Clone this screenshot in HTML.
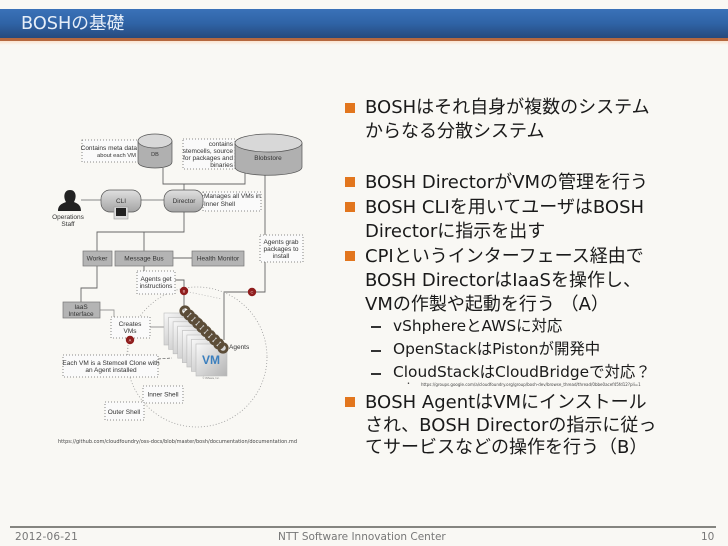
<!DOCTYPE html>
<html><head><meta charset="utf-8">
<style>
html,body{margin:0;padding:0;width:728px;height:546px;overflow:hidden;background:#f9f8f4}
body{position:relative;font-family:"DejaVu Sans","Noto Sans CJK JP",sans-serif}
.a{position:absolute;white-space:nowrap}
.l{position:absolute;left:365px;font-size:18px;line-height:24px;color:#1a1a1a;white-space:nowrap}
.s{position:absolute;left:393px;font-size:15.4px;line-height:20px;color:#1a1a1a;white-space:nowrap}
.b{position:absolute;left:345px;width:10px;height:10px;background:#e2761e}
.d{position:absolute;left:371px;width:10px;height:1.5px;background:#333}
</style></head><body>
<div class="a" style="left:0;top:9px;width:728px;height:29px;background:linear-gradient(#3a72b8,#2f63a6 50%,#264a7c)"></div>
<div class="a" style="left:0;top:38px;width:728px;height:3px;background:#b5683f"></div>
<div class="a" style="left:0;top:41px;width:728px;height:4px;background:linear-gradient(#fbe3cf,#f9f8f4)"></div>
<div class="a" style="left:21px;top:12px;font-size:17.7px;line-height:25px;color:#e6eef8">BOSHの基礎</div>

<svg class="a" style="left:0;top:0;filter:blur(.35px)" width="728" height="546" font-family="'Liberation Sans',sans-serif" font-size="6.5" fill="#333">
<defs><linearGradient id="g" x1="0" y1="0" x2="0" y2="1"><stop offset="0" stop-color="#e0e0e0"/><stop offset="1" stop-color="#a4a4a4"/></linearGradient>
<linearGradient id="c" x1="0" y1="0" x2="1" y2="1"><stop offset="0" stop-color="#f8f8f8"/><stop offset="1" stop-color="#b4b4b4"/></linearGradient></defs>
<!-- connectors -->
<g fill="none" stroke="#666" stroke-width=".9">
<path d="M163 168V184H184M245 172V184H184M184 184V190"/>
<path d="M81 200H101M141 200H164" stroke="#888"/>
<path d="M184 212V232H97V251M184 232H144V251M173 258H192"/>
<path d="M97 266V288H81V302"/>
<path d="M144 266V271M175 280H184V311"/>
<path d="M265 174V235M265 262V292H224V340"/>
<path d="M100 310H114V317M150 327H164" stroke="#999"/>
</g>
<circle cx="197" cy="357" r="70" fill="none" stroke="#999" stroke-width=".8" stroke-dasharray="1 2"/>
<!-- dotted notes -->
<g fill="#fafafa" stroke="#666" stroke-width=".8" stroke-dasharray="1 2">
<rect x="82" y="140" width="58" height="22"/>
<rect x="183" y="139" width="52" height="30"/>
<rect x="203" y="192" width="58" height="19"/>
<rect x="260" y="235" width="43" height="27"/>
<rect x="137" y="271" width="38" height="23"/>
<rect x="111" y="317" width="39" height="21"/>
<rect x="63" y="355" width="95" height="22"/>
<rect x="143" y="386" width="40" height="17"/>
<rect x="105" y="402" width="39" height="18"/>
</g>
<path d="M158 359L172 358" fill="none" stroke="#666" stroke-width=".7" stroke-dasharray="3 1.5"/>
<path d="M128 345V355M184 291L222 299" fill="none" stroke="#aaa" stroke-width=".7" stroke-dasharray="1 2"/>
<!-- DB -->
<path d="M138 141V162C138 170 172 170 172 162V141Z" fill="#b0b0b0" stroke="#555" stroke-width=".7"/>
<ellipse cx="155" cy="141" rx="17" ry="7" fill="#d8d8d8" stroke="#555" stroke-width=".7"/>
<!-- Blobstore -->
<path d="M235 143V167C235 178 302 178 302 167V143Z" fill="#b0b0b0" stroke="#555" stroke-width=".7"/>
<ellipse cx="268.500" cy="143" rx="33.500" ry="9" fill="#d8d8d8" stroke="#555" stroke-width=".7"/>
<!-- person -->
<path d="M58 211C58 204 64 203 66 202C63 197 64 190 70 190C76 190 77 197 74 202C76 203 81 204 81 211Z" fill="#222"/>
<!-- rounded boxes -->
<rect x="101" y="190" width="40" height="22" rx="9" fill="url(#g)" stroke="#555" stroke-width=".7"/>
<rect x="164" y="190" width="39" height="22" rx="9" fill="url(#g)" stroke="#555" stroke-width=".7"/>
<rect x="114" y="207" width="14" height="12" fill="#ddd" stroke="#999" stroke-width=".6"/>
<rect x="116" y="208" width="10" height="8" fill="#222"/>
<!-- square boxes -->
<g fill="#b4b4b4" stroke="#777" stroke-width=".7">
<rect x="83" y="251" width="29" height="15"/>
<rect x="115" y="251" width="58" height="15"/>
<rect x="192" y="251" width="52" height="15"/>
<rect x="63" y="302" width="37" height="16"/>
</g>
<!-- VM stack -->
<g fill="url(#c)" stroke="#bbb" stroke-width=".6">
<rect x="164" y="313" width="31" height="32"/><rect x="168.600" y="317.400" width="31" height="32"/><rect x="173.100" y="321.800" width="31" height="32"/><rect x="177.700" y="326.200" width="31" height="32"/><rect x="182.300" y="330.600" width="31" height="32"/><rect x="186.900" y="335" width="31" height="32"/><rect x="191.400" y="339.400" width="31" height="32"/><rect x="196" y="344" width="31" height="32"/>
</g>
<g fill="none" stroke="#5c4d38" stroke-width="2.800">
<circle cx="185" cy="311" r="4.200"/><circle cx="189.200" cy="315.100" r="4.200"/><circle cx="193.400" cy="319.200" r="4.200"/><circle cx="197.700" cy="323.300" r="4.200"/><circle cx="201.900" cy="327.400" r="4.200"/><circle cx="206.100" cy="331.600" r="4.200"/><circle cx="210.300" cy="335.700" r="4.200"/><circle cx="214.600" cy="339.800" r="4.200"/><circle cx="218.800" cy="343.900" r="4.200"/><circle cx="223" cy="348" r="4.200"/>
</g>
<!-- red badges -->
<g fill="#8f1d1d"><circle cx="184" cy="291" r="4.200"/><circle cx="252" cy="292" r="4.200"/><circle cx="130" cy="340" r="4.200"/></g>
<g fill="#f3c9c9" font-size="4" text-anchor="middle"><text x="184" y="292.500">B</text><text x="252" y="293.500">C</text><text x="130" y="341.500">A</text></g>
<!-- labels -->
<g text-anchor="end">
<text x="137" y="150">Contains meta data</text><text x="136" y="157" font-size="5.800">about each VM</text>
<text x="233" y="146">contains</text><text x="233" y="153">stemcells, source</text><text x="233" y="160">for packages and</text><text x="233" y="167">binaries</text>
</g>
<g text-anchor="middle">
<text x="155" y="156" font-size="5.500">DB</text><text x="268" y="160">Blobstore</text>
<text x="121" y="203">CLI</text><text x="184" y="203">Director</text>
<text x="68" y="219">Operations</text><text x="68" y="226">Staff</text>
<text x="97" y="260.500">Worker</text><text x="144" y="260.500">Message Bus</text><text x="218" y="260.500">Health Monitor</text>
<text x="281" y="244">Agents grab</text><text x="281" y="251">packages to</text><text x="281" y="258">install</text>
<text x="156" y="281">Agents get</text><text x="156" y="288">instructions</text>
<text x="81" y="309">IaaS</text><text x="81" y="316">Interface</text>
<text x="130" y="326">Creates</text><text x="130" y="333">VMs</text>
<text x="111" y="365">Each VM is a Stemcell Clone with</text><text x="111" y="372">an Agent installed</text>
<text x="163" y="396.500">Inner Shell</text><text x="124" y="414">Outer Shell</text>
</g>
<text x="204" y="198">Manages all VMs in</text><text x="204" y="206">Inner Shell</text>
<text x="229" y="349">Agents</text>
<text x="211" y="364" text-anchor="middle" font-size="12" font-weight="bold" fill="#3b7fbe">VM</text>
<text x="211" y="379" text-anchor="middle" font-size="2.500" fill="#777">© VMware, Inc.</text>
<text x="58" y="443" font-family="'DejaVu Sans',sans-serif" font-size="5.200" fill="#444" textLength="239" lengthAdjust="spacingAndGlyphs">https://github.com/cloudfoundry/oss-docs/blob/master/bosh/documentation/documentation.md</text>
</svg>

<div class="b" style="top:103px"></div>
<div class="l" style="top:96px">BOSHはそれ自身が複数のシステム</div>
<div class="l" style="top:120px">からなる分散システム</div>
<div class="b" style="top:177px"></div>
<div class="l" style="top:171px">BOSH DirectorがVMの管理を行う</div>
<div class="b" style="top:202px"></div>
<div class="l" style="top:196px">BOSH CLIを用いてユーザはBOSH</div>
<div class="l" style="top:220px">Directorに指示を出す</div>
<div class="b" style="top:251px"></div>
<div class="l" style="top:245px">CPIというインターフェース経由で</div>
<div class="l" style="top:269px">BOSH DirectorはIaaSを操作し、</div>
<div class="l" style="top:293px">VMの作製や起動を行う （A）</div>
<div class="d" style="top:326px"></div><div class="s" style="top:316px">vShphereとAWSに対応</div>
<div class="d" style="top:350px"></div><div class="s" style="top:339px">OpenStackはPistonが開発中</div>
<div class="d" style="top:373px"></div><div class="s" style="top:362px">CloudStackはCloudBridgeで対応？</div>
<div class="a" style="left:407px;top:381px;font-size:5px;line-height:6px;color:#333">•</div>
<div class="a" style="left:421px;top:382px;font-size:4.03px;line-height:5px;color:#444">https://groups.google.com/a/cloudfoundry.org/group/bosh-dev/browse_thread/thread/0bbe0acef45fd12?pli=1</div>
<div class="b" style="top:397px"></div>
<div class="l" style="top:391px">BOSH AgentはVMにインストール</div>
<div class="l" style="top:414px">され、BOSH Directorの指示に従っ</div>
<div class="l" style="top:436px">てサービスなどの操作を行う（B）</div>

<div class="a" style="left:10px;top:526px;width:706px;height:2px;background:#858580"></div>
<div class="a" style="left:15px;top:530px;font-size:10.500px;line-height:14px;color:#777;letter-spacing:.2px">2012-06-21</div>
<div class="a" style="left:278px;top:530px;font-size:10.500px;line-height:14px;color:#777">NTT Software Innovation Center</div>
<div class="a" style="left:701px;top:530px;font-size:10.500px;line-height:14px;color:#777">10</div>
</body></html>
